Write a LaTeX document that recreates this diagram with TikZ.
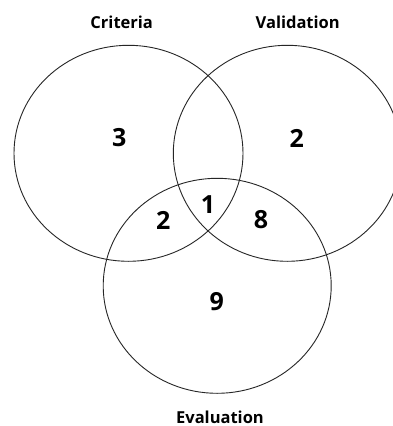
\documentclass[tikz,border=0pt]{standalone}
\usepackage{fontspec}
\setmainfont{Open Sans}
\begin{document}
\begin{tikzpicture}[x=1pt,y=-1pt,
  setring/.style={draw=black!85,line width=0.9pt},
  setlabel/.style={font=\bfseries\fontsize{16.5}{19}\selectfont,inner sep=0pt},
  count/.style={font=\bfseries\fontsize{25}{30}\selectfont,inner sep=0pt}]
\useasboundingbox[fill=white] (0,0) rectangle (393,426);
\draw[setring] (128.5,153.3) ellipse [x radius=114.5, y radius=108];
\draw[setring] (287.3,153.3) ellipse [x radius=114, y radius=108];
\draw[setring] (217.2,285.8) ellipse [x radius=114, y radius=107.5];
\node[setlabel] (crit) at (121.7,22.7) {Criteria};
\node[setlabel] (val) at (297.7,22.7) {Validation};
\node[setlabel] (eval) at (220,417) {Evaluation};
\node[count] (n3) at (119.3,138) {3};
\node[count] (n2a) at (296.7,138) {2};
\node[count] (n1) at (208,205) {1};
\node[count] (n2b) at (163.3,220) {2};
\node[count] (n8) at (261,220) {8};
\node[count] (n9) at (216.7,302) {9};
\end{tikzpicture}
\end{document}
